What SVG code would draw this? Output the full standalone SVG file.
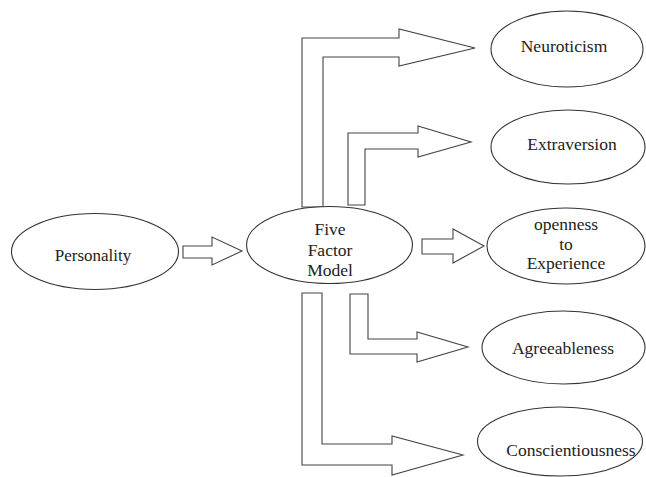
<svg xmlns="http://www.w3.org/2000/svg" width="646" height="477" viewBox="0 0 646 477">
<style>
.node ellipse{fill:#fff;stroke:#333;stroke-width:1.1}
.node text{font-family:'Liberation Serif',serif;font-size:17.5px;fill:#222;text-anchor:middle}
#connectors polygon{fill:#fff;stroke:#444;stroke-width:1.1;stroke-linejoin:miter}
</style>
<rect width="646" height="477" fill="#fff"/>
<g id="connectors">
<polygon points="183,246 212,246 212,237 242,251 212,265 212,258 183,258"/>
<polygon points="302,207 302,38 399,38 399,29 475,48 399,66 399,57 323,57 323,207"/>
<polygon points="348,205 348,133 418,133 418,126 471,142 418,157 418,149 365,149 365,205"/>
<polygon points="422,239 453,239 453,229 484,246 453,263 453,254 422,254"/>
<polygon points="350,294 368,294 368,339 417,339 417,332 468,347 417,362 417,354 350,354"/>
<polygon points="302,293 322,293 322,444 392,444 392,436 463,455 392,475 392,465 302,465"/>
</g>
<g id="personality" class="node">
<ellipse cx="95" cy="251.5" rx="83.5" ry="38"/>
<text x="93" y="261" font-family="Liberation Serif" style="font-size:17px">Personality</text>
</g>
<g id="ffm" class="node">
<ellipse cx="329.5" cy="245" rx="83" ry="38.5"/>
<text x="330" y="235" font-family="Liberation Serif">Five</text>
<text x="330" y="256" font-family="Liberation Serif">Factor</text>
<text x="330" y="276" font-family="Liberation Serif">Model</text>
</g>
<g id="neuroticism" class="node">
<ellipse cx="567" cy="49" rx="76" ry="38"/>
<text x="564" y="52" font-family="Liberation Serif">Neuroticism</text>
</g>
<g id="extraversion" class="node">
<ellipse cx="568" cy="147" rx="77" ry="37"/>
<text x="572" y="150" font-family="Liberation Serif">Extraversion</text>
</g>
<g id="openness" class="node">
<ellipse cx="566" cy="246" rx="79" ry="38"/>
<text x="566" y="230" font-family="Liberation Serif">openness</text>
<text x="566" y="250" font-family="Liberation Serif">to</text>
<text x="566" y="269" font-family="Liberation Serif">Experience</text>
</g>
<g id="agreeableness" class="node">
<ellipse cx="563.5" cy="347.5" rx="81.5" ry="36.5"/>
<text x="563" y="354" font-family="Liberation Serif">Agreeableness</text>
</g>
<g id="conscientiousness" class="node">
<ellipse cx="560" cy="441.5" rx="82.5" ry="34.5"/>
<text x="571" y="456" font-family="Liberation Serif">Conscientiousness</text>
</g>
</svg>
